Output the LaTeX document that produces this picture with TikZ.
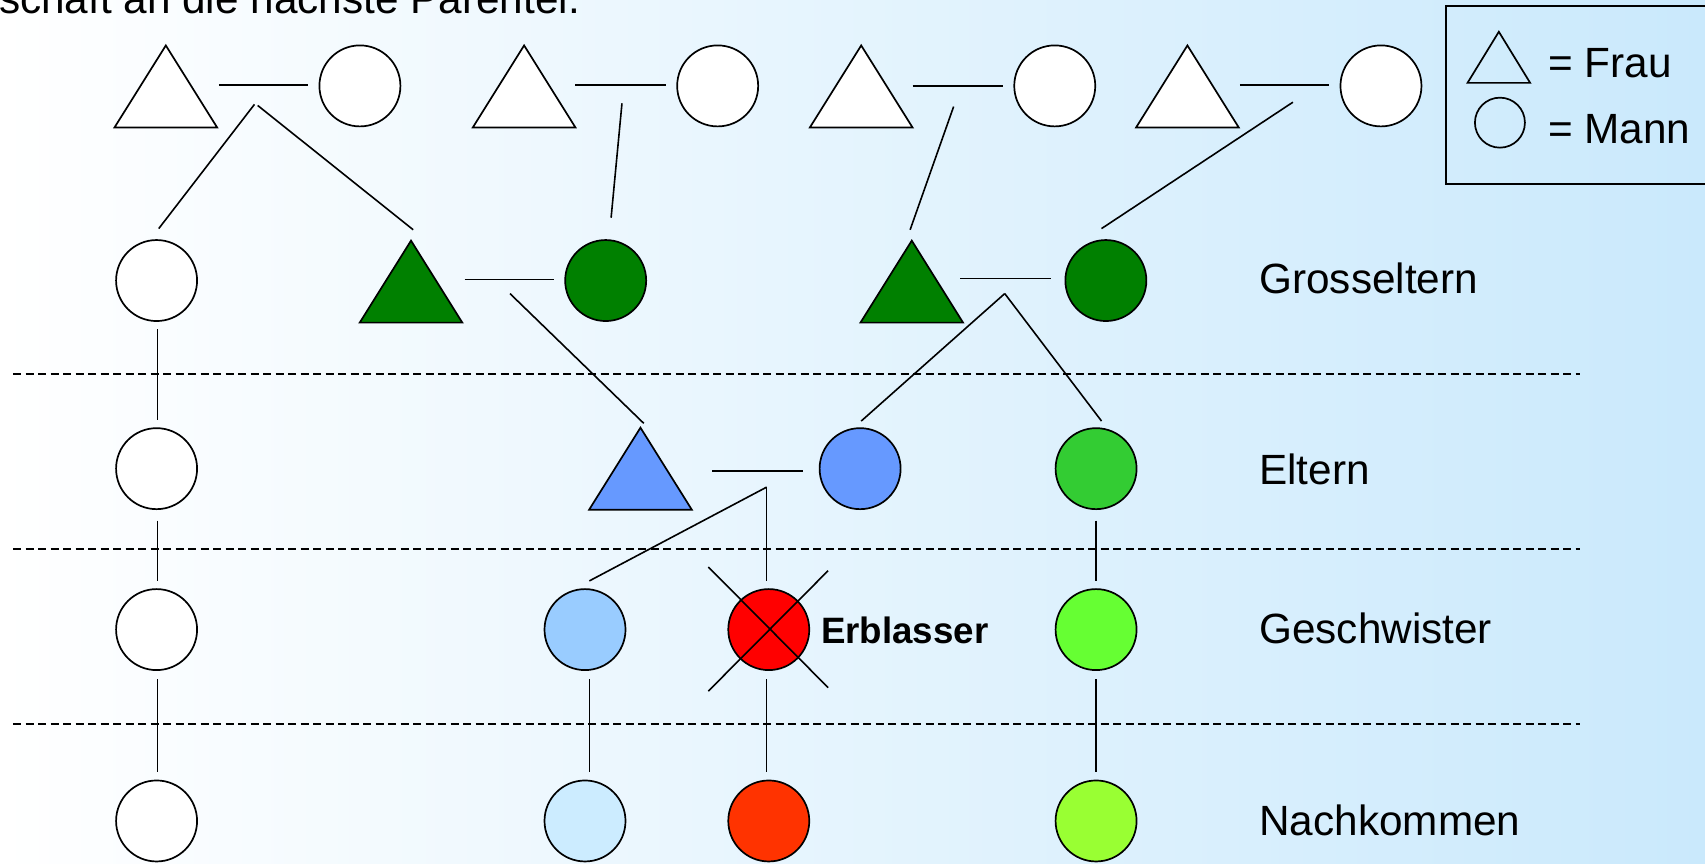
\documentclass[tikz,border=0pt]{standalone}
\usepackage{fontspec}
\setmainfont{Liberation Sans}
\usetikzlibrary{calc}
\definecolor{bgblue}{RGB}{202,233,252}
\definecolor{dkgreen}{HTML}{008000}
\definecolor{midblue}{HTML}{6699FF}
\definecolor{midgreen}{HTML}{33CC33}
\definecolor{ltblue}{HTML}{99CCFF}
\definecolor{brgreen}{HTML}{66FF33}
\definecolor{paleblue}{HTML}{CCECFF}
\definecolor{orred}{HTML}{FF3300}
\definecolor{ylgreen}{HTML}{99FF33}
\begin{document}
\begin{tikzpicture}[x=1.0874pt,y=-1.0874pt,
  man/.style={circle,draw=black,line width=1.7pt,minimum size=81pt,inner sep=0pt},
  woman/.style={rectangle,minimum width=102.2pt,minimum height=81.6pt,inner sep=0pt},
  tri/.style={draw=black,line width=1.7pt},
  link/.style={draw=black,line width=1.6pt},
  sep/.style={draw=black,line width=1.5pt,dash pattern=on 8pt off 4.5pt},
  lab/.style={anchor=base west,inner sep=0pt,font=\fontsize{42.3}{50}\selectfont}]
\useasboundingbox (0,0) rectangle (1568,794);
\shade[left color=white,right color=bgblue] (0,0) rectangle (1568,794);

% title (cut)
\node[lab] (title) at (-1,12.3) {schaft an die nächste Parentel.};

% separators
\coordinate (s1a) at (12,344); \coordinate (s1b) at (1453,344);
\coordinate (s2a) at (12,505); \coordinate (s2b) at (1453,505);
\coordinate (s3a) at (12,666); \coordinate (s3b) at (1453,666);
\draw[sep] (s1a) -- (s1b);
\draw[sep] (s2a) -- (s2b);
\draw[sep] (s3a) -- (s3b);

% row 1
\node[woman] (t1) at (152.5,79.5) {};
\node[woman] (t2) at (482,79.5) {};
\node[woman] (t3) at (792,79.5) {};
\node[woman] (t4) at (1092,79.5) {};
\foreach \t in {t1,t2,t3,t4}
  \draw[tri,fill=white] (\t.south west) -- (\t.north) -- (\t.south east) -- cycle;
\node[man,fill=white] (c1) at (331,79) {};
\node[man,fill=white] (c2) at (660,79) {};
\node[man,fill=white] (c3) at (970,79) {};
\node[man,fill=white] (c4) at (1270,79) {};

% row 2
\node[man,fill=white] (c5) at (144,258) {};
\node[woman] (t5) at (378,259) {};
\draw[tri,fill=dkgreen] (t5.south west) -- (t5.north) -- (t5.south east) -- cycle;
\node[man,fill=dkgreen] (c6) at (557,258) {};
\node[woman] (t6) at (838.5,259) {};
\draw[tri,fill=dkgreen] (t6.south west) -- (t6.north) -- (t6.south east) -- cycle;
\node[man,fill=dkgreen] (c7) at (1017,258) {};

% row 3
\node[man,fill=white] (c8) at (144,431) {};
\node[woman] (t7) at (589,431) {};
\draw[tri,fill=midblue] (t7.south west) -- (t7.north) -- (t7.south east) -- cycle;
\node[man,fill=midblue] (c9) at (791,431) {};
\node[man,fill=midgreen] (c10) at (1008,431) {};

% row 4
\node[man,fill=white] (c11) at (144,579) {};
\node[man,fill=ltblue] (c12) at (538,579) {};
\node[man,fill=red] (c13) at (707,579) {};
\node[man,fill=brgreen] (c14) at (1008,579) {};

% row 5
\node[man,fill=white] (c15) at (144,755) {};
\node[man,fill=paleblue] (c16) at (538,755) {};
\node[man,fill=orred] (c17) at (707,755) {};
\node[man,fill=ylgreen] (c18) at (1008,755) {};

% cross over the deceased
\draw[link] ($(c13)+(-55.6,-57.6)$) -- ($(c13)+(54.6,53.4)$);
\draw[link] ($(c13)+(54.6,-54.2)$) -- ($(c13)+(-55.6,56.6)$);
\node[anchor=base west,inner sep=0pt,font=\fontsize{36.7}{44}\selectfont\bfseries] (erbl) at (755,591.6) {Erblasser};

% marriage lines
\draw[link] ($(t1.south east |- c1)+(1.5,-1)$) -- ($(c1.west)+(-9.75,-1)$);
\draw[link] ($(t2.south east |- c2)+(0,-1)$) -- ($(c2.west)+(-9.75,-1)$);
\draw[link] ($(t3.south east |- c3)+(0,0)$) -- ($(c3.west)+(-9.75,0)$);
\draw[link] ($(t4.south east |- c4)+(1,-1)$) -- ($(c4.west)+(-9.75,-1)$);
\draw[link] ($(t5.south east |- c6)+(2,-1)$) -- ($(c6.west)+(-9.75,-1)$);
\draw[link] ($(t6.south east |- c7)+(-2.5,-2)$) -- ($(c7.west)+(-12.75,-2)$);
\draw[link] ($(t7.south east |- c9)+(19,2)$) -- ($(c9.west)+(-14.75,2)$);

% descent lines
\coordinate (p1) at (234,96);
\coordinate (p2) at (237,97);
\coordinate (p3) at (572,95);
\coordinate (p4) at (877,98);
\coordinate (p5) at (1189,94);
\coordinate (p6) at (469,270);
\coordinate (p7) at (924,270);
\coordinate (p8) at (705,448);
\draw[link] (p1) -- ($(c5.north)+(2,-9.75)$);
\draw[link] (p2) -- ($(t5.north)+(2,-10)$);
\draw[link] (p3) -- ($(c6.north)+(5,-19.75)$);
\draw[link] (p4) -- ($(t6.north)+(-1.5,-10)$);
\draw[link] (p5) -- ($(c7.north)+(-4,-9.75)$);
\draw[link] (p6) -- ($(t7.north)+(3,-4)$);
\draw[link] (p7) -- ($(c9.north)+(1,-5.75)$);
\draw[link] (p7) -- ($(c10.north)+(5,-5.75)$);
\draw[link] (p8) -- ($(c12.north)+(4,-6.75)$);
\draw[link] (p8) -- ($(c13.north)+(-2,-6.75)$);
\draw[link] ($(c5.south)+(1,6.75)$) -- ($(c8.north)+(1,-6.75)$);
\draw[link] ($(c8.south)+(1,9.75)$) -- ($(c11.north)+(1,-6.75)$);
\draw[link] ($(c10.south)+(0,9.75)$) -- ($(c14.north)+(0,-6.75)$);
\draw[link] ($(c11.south)+(1,7.75)$) -- ($(c15.north)+(1,-6.75)$);
\draw[link] ($(c12.south)+(4,7.75)$) -- ($(c16.north)+(4,-6.75)$);
\draw[link] ($(c13.south)+(-2,7.75)$) -- ($(c17.north)+(-2,-6.75)$);
\draw[link] ($(c14.south)+(0,7.75)$) -- ($(c18.north)+(0,-6.75)$);

% generation labels
\node[lab] (lgross) at (1158,269.7) {Grosseltern};
\node[lab] (leltern) at (1158,446) {Eltern};
\node[lab] (lgesch) at (1158,591.6) {Geschwister};
\node[lab] (lnach) at (1158,768) {Nachkommen};

% legend
\draw[line width=1.7pt] (1600,5.2) -- (1329.5,5.2) -- (1329.5,169.2) -- (1600,169.2);
\node[rectangle,minimum width=62.2pt,minimum height=50.7pt,inner sep=0pt] (lt) at (1378.4,52.7) {};
\draw[tri,fill=none] (lt.south west) -- (lt.north) -- (lt.south east) -- cycle;
\node[circle,draw=black,line width=1.7pt,minimum size=50pt,inner sep=0pt] (lc) at (1379.4,112.8) {};
\node[lab] (lfrau) at (1423.6,71.1) {= Frau};
\node[lab] (lmann) at (1423.6,131.8) {= Mann};
\end{tikzpicture}
\end{document}
